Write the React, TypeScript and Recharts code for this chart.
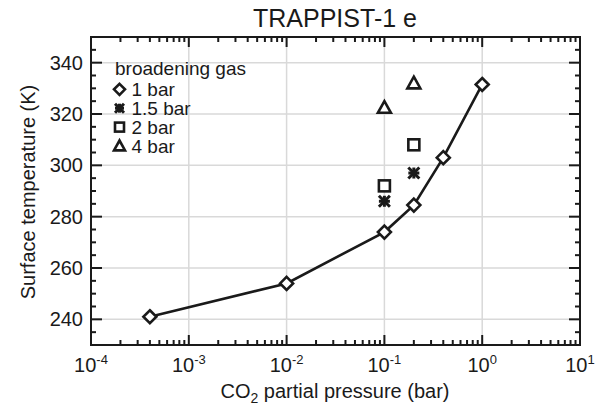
import { ScatterChart, Scatter, XAxis, YAxis, CartesianGrid } from 'recharts';

// CO2 partial pressure (bar) and surface temperature (K)
const pressures1bar = [4e-4, 1e-2, 1e-1, 0.2, 0.4, 1];
const temps1bar = [241, 254, 274, 284.5, 303, 331.5];
const pressuresHigh = [0.1, 0.2];
const temps15bar = [286, 297];
const temps2bar = [292, 308];
const temps4bar = [322.5, 332];

const seriesNames = ['1 bar', '1.5 bar', '2 bar', '4 bar'];

const xMajor = [1e-4, 1e-3, 1e-2, 1e-1, 1, 10];
const xMinor = [-4, -3, -2, -1, 0].flatMap((d) => [2, 3, 4, 5, 6, 7, 8, 9].map((k) => k * Math.pow(10, d)));
const yMajor = [240, 260, 280, 300, 320, 340];
const yMinor = [235, 245, 250, 255, 265, 270, 275, 285, 290, 295, 305, 310, 315, 325, 330, 335, 345];

const X_DOMAIN = [1e-4, 10];
const Y_DOMAIN = [230, 350];

const FONT = '"Liberation Sans", Arial, Helvetica, sans-serif';
const INK = '#1a1a1a';

const W = 612;
const H = 405;
const M = { left: 91, right: 32, top: 37, bottom: 60 };
const PLOT_W = W - M.left - M.right;
const PLOT_H = H - M.top - M.bottom;
const MAJOR_LEN = 10;
const MINOR_LEN = 5;

const toPoints = (xs: number[], ys: number[]) => xs.map((x, i) => ({ x, y: ys[i] }));

// frame decoration only (box edges + inward ticks), same mapping as the chart's plot box
const LOG_SPAN = Math.log10(X_DOMAIN[1] / X_DOMAIN[0]);
const px = (v: number) => M.left + (Math.log10(v / X_DOMAIN[0]) / LOG_SPAN) * PLOT_W;
const py = (t: number) => M.top + PLOT_H - ((t - Y_DOMAIN[0]) / (Y_DOMAIN[1] - Y_DOMAIN[0])) * PLOT_H;

function Diamond({ cx, cy, r = 6.5 }: any) {
  return (
    <path
      d={`M${cx},${cy - r}L${cx + r},${cy}L${cx},${cy + r}L${cx - r},${cy}Z`}
      fill="#fff"
      stroke={INK}
      strokeWidth={2.6}
    />
  );
}

function Star({ cx, cy, r = 5.5 }: any) {
  return (
    <g stroke={INK} strokeWidth={3}>
      <line x1={cx - r} y1={cy - r} x2={cx + r} y2={cy + r} />
      <line x1={cx - r} y1={cy + r} x2={cx + r} y2={cy - r} />
      <line x1={cx} y1={cy - r} x2={cx} y2={cy + r} />
      <line x1={cx - r} y1={cy} x2={cx + r} y2={cy} />
    </g>
  );
}

function Square({ cx, cy, r = 5.5 }: any) {
  return <rect x={cx - r} y={cy - r} width={r * 2} height={r * 2} fill="#fff" stroke={INK} strokeWidth={2.6} />;
}

function Triangle({ cx, cy, r = 6.5 }: any) {
  return (
    <path
      d={`M${cx},${cy - r}L${cx + r},${cy + r * 0.8}L${cx - r},${cy + r * 0.8}Z`}
      fill="#fff"
      stroke={INK}
      strokeWidth={2.6}
    />
  );
}

const legendShapes = [Diamond, Star, Square, Triangle];

function XTick({ x, y, payload }: any) {
  return (
    <text x={x} y={y} textAnchor="middle" fontSize={20} fill={INK} fontFamily={FONT} dy={27}>
      <tspan>10</tspan>
      <tspan dy={-8} fontSize={13}>{Math.round(Math.log10(payload.value))}</tspan>
    </text>
  );
}

function Frame() {
  const top = M.top;
  const bottom = M.top + PLOT_H;
  const left = M.left;
  const right = M.left + PLOT_W;
  const xs = [
    ...xMajor.map((v) => ({ v, len: MAJOR_LEN })),
    ...xMinor.map((v) => ({ v, len: MINOR_LEN })),
  ];
  const ys = [
    ...yMajor.map((v) => ({ v, len: MAJOR_LEN + 1 })),
    ...yMinor.map((v) => ({ v, len: MINOR_LEN })),
  ];
  return (
    <g stroke={INK} strokeWidth={2}>
      <rect x={left} y={top} width={PLOT_W} height={PLOT_H} fill="none" />
      {xs.map(({ v, len }) => (
        <g key={`x${v}`}>
          <line x1={px(v)} y1={bottom} x2={px(v)} y2={bottom - len} />
          <line x1={px(v)} y1={top} x2={px(v)} y2={top + len} />
        </g>
      ))}
      {ys.map(({ v, len }) => (
        <g key={`y${v}`}>
          <line x1={left} y1={py(v)} x2={left + len} y2={py(v)} />
          <line x1={right} y1={py(v)} x2={right - len} y2={py(v)} />
        </g>
      ))}
    </g>
  );
}

export default function App() {
  const axisLine = { stroke: INK, strokeWidth: 2 };

  return (
    <div style={{ position: 'relative', width: W, height: H, fontFamily: FONT }}>
      <style>{'body{margin:0}'}</style>
      <ScatterChart width={W} height={H} margin={{ top: M.top, right: M.right, bottom: 0, left: 0 }}>
        <CartesianGrid xAxisId="x" yAxisId="y" stroke="#d9d9d9" strokeWidth={1.5} />
        <XAxis
          xAxisId="x"
          type="number"
          scale="log"
          dataKey="x"
          domain={X_DOMAIN}
          allowDataOverflow
          ticks={xMajor}
          interval={0}
          height={M.bottom}
          tickSize={0}
          tickMargin={0}
          tickLine={false}
          axisLine={axisLine}
          tick={<XTick />}
        />
        <YAxis
          yAxisId="y"
          type="number"
          dataKey="y"
          domain={Y_DOMAIN}
          allowDataOverflow
          ticks={yMajor}
          interval={0}
          width={M.left}
          tickSize={0}
          tickMargin={8}
          tickLine={false}
          axisLine={axisLine}
          tick={{ fill: INK, fontSize: 20, fontFamily: FONT }}
        />
        <Scatter
          xAxisId="x"
          yAxisId="y"
          name={seriesNames[0]}
          data={toPoints(pressures1bar, temps1bar)}
          line={{ stroke: INK, strokeWidth: 2.6 }}
          shape={(p: any) => <Diamond cx={p.cx} cy={p.cy} />}
          isAnimationActive={false}
        />
        <Scatter xAxisId="x" yAxisId="y" name={seriesNames[1]} data={toPoints(pressuresHigh, temps15bar)} shape={(p: any) => <Star cx={p.cx} cy={p.cy} />} isAnimationActive={false} />
        <Scatter xAxisId="x" yAxisId="y" name={seriesNames[2]} data={toPoints(pressuresHigh, temps2bar)} shape={(p: any) => <Square cx={p.cx} cy={p.cy} />} isAnimationActive={false} />
        <Scatter xAxisId="x" yAxisId="y" name={seriesNames[3]} data={toPoints(pressuresHigh, temps4bar)} shape={(p: any) => <Triangle cx={p.cx} cy={p.cy} />} isAnimationActive={false} />
      </ScatterChart>
      <svg width={W} height={H} style={{ position: 'absolute', left: 0, top: 0, pointerEvents: 'none' }}>
        <Frame />
        <text x={335} y={27} textAnchor="middle" fontSize={25} fill={INK} fontFamily={FONT}>
          TRAPPIST-1 e
        </text>
        <text x={335} y={398} textAnchor="middle" fontSize={20} fill={INK} fontFamily={FONT}>
          <tspan>CO</tspan>
          <tspan fontSize={14} dy={5}>2</tspan>
          <tspan dy={-5}> partial pressure (bar)</tspan>
        </text>
        <text transform="translate(35,192) rotate(-90)" textAnchor="middle" fontSize={20} fill={INK} fontFamily={FONT}>
          Surface temperature (K)
        </text>
        <text x={115} y={75} fontSize={19} fill={INK} fontFamily={FONT}>
          broadening gas
        </text>
        {seriesNames.map((name, i) => {
          const Shape = legendShapes[i];
          const cy = 89.3 + i * 18.9;
          return (
            <g key={name}>
              <Shape cx={119.5} cy={cy} r={i === 1 || i === 2 ? 4.5 : 5.5} />
              <text x={131.5} y={cy + 6.8} fontSize={19} fill={INK} fontFamily={FONT}>
                {name}
              </text>
            </g>
          );
        })}
      </svg>
    </div>
  );
}
